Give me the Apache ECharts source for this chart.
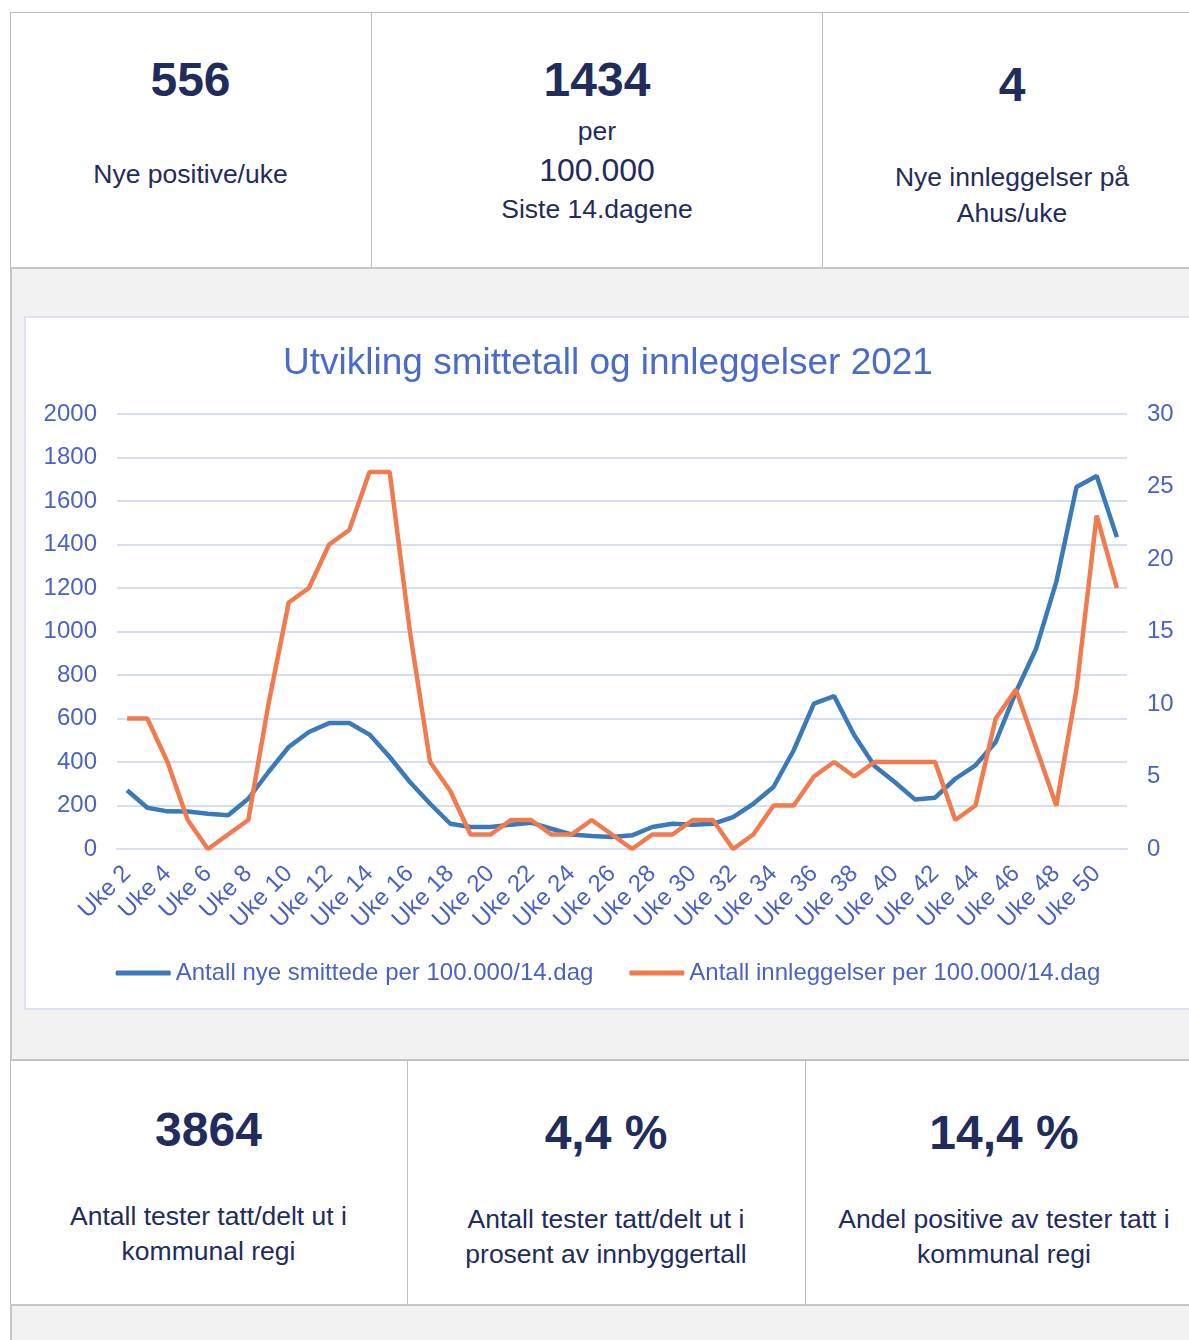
<!DOCTYPE html>
<html>
<head>
<meta charset="utf-8">
<script src="https://cdn.jsdelivr.net/npm/echarts@6/dist/echarts.min.js"></script>
<style>
  html, body { margin: 0; padding: 0; background: #fff; overflow: hidden; width: 1189px; height: 1340px; }
  body { position: relative; font-family: "Liberation Sans", Arial, sans-serif; color: #1f2c5c; }
  .page { position: absolute; left: 10px; top: 12px; width: 1200px; height: 1340px; background: #f2f2f2;
          border-left: 2px solid #c6c6c6; border-top: 2px solid #c6c6c6; box-sizing: border-box; }
  .cell { position: absolute; background: #fff; border: 1px solid #bdbdbd; box-sizing: border-box; }
  .t { position: absolute; text-align: center; white-space: nowrap; }
  .big { font-weight: bold; font-size: 48px; line-height: 54px; }
  .txt { font-size: 26.5px; line-height: 30px; }
  #chartbox { position: absolute; left: 24px; top: 316px; width: 1170px; height: 694px; background: #fff;
              border: 2px solid #dde3f3; box-sizing: border-box; }
  #chart { position: absolute; left: 0; top: 0; width: 1164px; height: 694px; }
</style>
</head>
<body>
<div class="page"></div>

<!-- top boxes -->
<div class="cell" style="left:10px;top:12px;width:362px;height:257px;"></div>
<div class="cell" style="left:371px;top:12px;width:452px;height:257px;"></div>
<div class="cell" style="left:822px;top:12px;width:400px;height:257px;"></div>
<div style="position:absolute;left:10px;top:267px;width:1200px;height:2px;background:#c6c6c6"></div>

<div class="t big" style="left:10px;width:361px;top:53px;">556</div>
<div class="t txt" style="left:10px;width:361px;top:159px;">Nye positive/uke</div>

<div class="t big" style="left:372px;width:450px;top:53px;">1434</div>
<div class="t txt" style="left:372px;width:450px;top:116px;">per</div>
<div class="t" style="left:372px;width:450px;top:152px;font-size:32px;line-height:36px;">100.000</div>
<div class="t txt" style="left:372px;width:450px;top:194px;">Siste 14.dagene</div>

<div class="t big" style="left:822px;width:380px;top:58px;">4</div>
<div class="t txt" style="left:822px;width:380px;top:162px;">Nye innleggelser på</div>
<div class="t txt" style="left:822px;width:380px;top:198px;">Ahus/uke</div>

<div id="chartbox"><div id="chart"></div></div>

<!-- bottom boxes -->
<div style="position:absolute;left:10px;top:1059px;width:1200px;height:2px;background:#c6c6c6"></div>
<div class="cell" style="left:10px;top:1060px;width:398px;height:246px;"></div>
<div class="cell" style="left:407px;top:1060px;width:399px;height:246px;"></div>
<div class="cell" style="left:805px;top:1060px;width:400px;height:246px;"></div>
<div style="position:absolute;left:10px;top:1304px;width:1200px;height:2px;background:#c6c6c6"></div>

<div class="t big" style="left:10px;width:397px;top:1103px;">3864</div>
<div class="t txt" style="left:10px;width:397px;top:1201px;">Antall tester tatt/delt ut i</div>
<div class="t txt" style="left:10px;width:397px;top:1236px;">kommunal regi</div>

<div class="t big" style="left:407px;width:398px;top:1106px;">4,4 %</div>
<div class="t txt" style="left:407px;width:398px;top:1204px;">Antall tester tatt/delt ut i</div>
<div class="t txt" style="left:407px;width:398px;top:1239px;">prosent av innbyggertall</div>

<div class="t big" style="left:805px;width:398px;top:1106px;">14,4 %</div>
<div class="t txt" style="left:805px;width:398px;top:1204px;">Andel positive av tester tatt i</div>
<div class="t txt" style="left:805px;width:398px;top:1239px;">kommunal regi</div>

<script>
// uke 2 .. uke 51
var weeks = [];
for (var w = 2; w <= 51; w++) {
    weeks.push('Uke ' + w);
}

// Antall nye smittede per 100.000/14.dag (venstre akse)
var smittede = [
    270, 190, 173, 172, 162, 155, 231, 354, 469, 538,
    579, 579, 526, 423, 308, 208, 116, 101, 101, 112,
    121, 93, 67, 60, 55, 63, 101, 116, 112, 116,
    147, 208, 285, 454, 668, 703, 523, 382, 308, 228,
    236, 323, 385, 492, 722, 921, 1228, 1664, 1715, 1434
];

// Antall innleggelser per 100.000/14.dag (høyre akse)
var innleggelser = [
    9, 9, 6, 2, 0, 1, 2, 10, 17, 18,
    21, 22, 26, 26, 15, 6, 4, 1, 1, 2,
    2, 1, 1, 2, 1, 0, 1, 1, 2, 2,
    0, 1, 3, 3, 5, 6, 5, 6, 6, 6,
    6, 2, 3, 9, 11, 7, 3, 11, 23, 18
];

var labelColor = '#4a63c2';
var gridColor = '#d8def1';

var chart = echarts.init(document.getElementById('chart'));
var option = {
    animation : false,
    textStyle : {
        fontFamily : 'Liberation Sans, Arial, sans-serif'
    },
    title : {
        text : 'Utvikling smittetall og innleggelser 2021',
        left : 'center',
        top : 22,
        textStyle : {
            color : '#4a6cc6',
            fontSize : 37,
            fontWeight : 'normal'
        }
    },
    legend : {
        bottom : 22,
        left : 'center',
        itemWidth : 55,
        itemHeight : 5,
        itemGap : 36,
        icon : 'roundRect',
        textStyle : {
            color : labelColor,
            fontSize : 24
        },
        data : ['Antall nye smittede per 100.000/14.dag', 'Antall innleggelser per 100.000/14.dag']
    },
    grid : {
        left : 91,
        top : 96,
        width : 1010,
        height : 435
    },
    xAxis : {
        type : 'category',
        boundaryGap : true,
        data : weeks,
        axisTick : { show : false },
        axisLine : { lineStyle : { color : gridColor, width : 2 } },
        axisLabel : {
            interval : 1,
            rotate : 45,
            margin : 21,
            color : labelColor,
            fontSize : 24
        }
    },
    yAxis : [
        {
            type : 'value',
            min : 0,
            max : 2000,
            interval : 200,
            axisLine : { show : false },
            axisTick : { show : false },
            axisLabel : {
                color : labelColor,
                fontSize : 24,
                margin : 20,
                formatter : function (v) { return String(v); }
            },
            splitLine : { lineStyle : { color : gridColor, width : 2 } }
        },
        {
            type : 'value',
            min : 0,
            max : 30,
            interval : 5,
            axisLine : { show : false },
            axisTick : { show : false },
            axisLabel : { color : labelColor, fontSize : 24, margin : 20 },
            splitLine : { show : false }
        }
    ],
    series : [
        {
            name : 'Antall nye smittede per 100.000/14.dag',
            type : 'line',
            yAxisIndex : 0,
            symbol : 'none',
            color : '#3b79b7',
            lineStyle : { width : 4.5, color : '#3b79b7' },
            data : smittede
        },
        {
            name : 'Antall innleggelser per 100.000/14.dag',
            type : 'line',
            yAxisIndex : 1,
            symbol : 'none',
            color : '#ef7b4f',
            lineStyle : { width : 4.5, color : '#ef7b4f' },
            data : innleggelser
        }
    ]
};
chart.setOption(option);
</script>
</body>
</html>
